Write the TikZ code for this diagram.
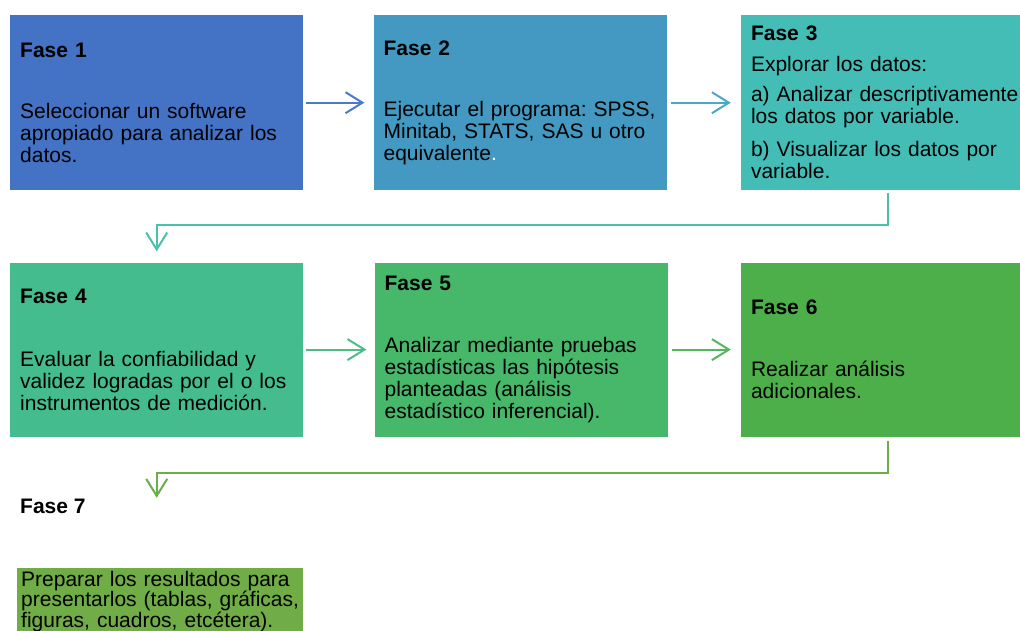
\documentclass[tikz,border=0pt]{standalone}
\usepackage{fontspec}
\setmainfont{Liberation Sans}
\frenchspacing
\usetikzlibrary{positioning,arrows.meta}
\definecolor{faseA}{HTML}{4472C4}
\definecolor{faseB}{HTML}{4399C1}
\definecolor{faseC}{HTML}{45BDB7}
\definecolor{faseD}{HTML}{45BC8E}
\definecolor{faseE}{HTML}{47B76A}
\definecolor{faseF}{HTML}{4DAF4A}
\definecolor{faseG}{HTML}{70AD47}
\definecolor{linkA}{HTML}{4A7BC8}
\definecolor{linkB}{HTML}{4BA8C8}
\definecolor{linkC}{HTML}{4DC0AA}
\definecolor{linkD}{HTML}{4DBC86}
\definecolor{linkE}{HTML}{52B85F}
\definecolor{linkF}{HTML}{6AAD49}
\tikzset{
  faseBox/.style={rectangle, text width=273pt, inner xsep=10pt, inner ysep=0pt, minimum height=175pt, align=left},
  faseTitle/.style={rectangle, inner sep=0pt, font=\fontsize{21}{22}\selectfont\bfseries},
  nextOp/.style={line width=2pt, -{Straight Barb[length=17pt,width=21pt]}},
  jumpOp/.style={line width=2pt, -{Straight Barb[length=17pt,width=21pt]}}
}
\begin{document}
\begin{tikzpicture}[x=1pt, y=-1pt, font=\fontsize{21}{22}\selectfont]
  \useasboundingbox (0,0) rectangle (1020,631);
  \node [faseBox, fill=faseA, anchor=north west] (f1) at (10,15)
    {\textbf{Fase 1}\\[39pt]Seleccionar un software\\apropiado para analizar los\\datos.};
  \node [faseBox, fill=faseB, right=70pt of f1] (f2)
    {\textbf{Fase 2}\\[39pt]\mbox{Ejecutar el programa: SPSS,}\\Minitab, STATS, SAS u otro\\equivalente\textcolor{white}{.}};
  \node [faseBox, fill=faseC, right=74pt of f2] (f3)
    {\textbf{Fase 3}\\[9pt]Explorar los datos:\\[8pt]\mbox{a) Analizar descriptivamente}\\los datos por variable.\\[11pt]b) Visualizar los datos por\\variable.};
  \node [faseBox, fill=faseD, minimum height=174pt, below=72pt of f1] (f4)
    {\textbf{Fase 4}\\[41pt]Evaluar la confiabilidad y\\validez logradas por el o los\\instrumentos de medici\'on.};
  \node [faseBox, fill=faseE, minimum height=174pt, right=71pt of f4] (f5)
    {\textbf{Fase 5}\\[40pt]Analizar mediante pruebas\\estad\'isticas las hip\'otesis\\planteadas (an\'alisis\\estad\'istico inferencial).};
  \node [faseBox, fill=faseF, minimum height=174pt, right=73pt of f5] (f6)
    {\textbf{Fase 6}\\[40pt]Realizar an\'alisis\\adicionales.};
  \node [faseTitle, anchor=base west] (f7title) at (20,513) {Fase 7};
  \node [faseBox, fill=faseG, text width=278pt, inner xsep=4pt, inner ysep=3pt, minimum height=0pt,
         anchor=north west, font=\fontsize{21}{20.5}\selectfont] (f7) at (17,568)
    {Preparar los resultados para\\\mbox{presentarlos (tablas, gr\'aficas,}\\figuras, cuadros, etc\'etera).};
  \coordinate (f7in) at ([yshift=-61pt]f4.south);

  \draw [nextOp, draw=linkA] ([xshift=3pt]f1.east) -- ([xshift=-9pt]f2.west);
  \draw [nextOp, draw=linkB] ([xshift=4pt]f2.east) -- ([xshift=-10pt]f3.west);
  \draw [nextOp, draw=linkD] ([xshift=3pt]f4.east) -- ([xshift=-8pt]f5.west);
  \draw [nextOp, draw=linkE] ([xshift=4pt]f5.east) -- ([xshift=-10pt]f6.west);
  \draw [jumpOp, draw=linkC] ([yshift=-3pt]f3.south) -- ++(0,32) -| ([yshift=11pt]f4.north);
  \draw [jumpOp, draw=linkF] ([yshift=-4pt]f6.south) -- ++(0,32) -| (f7in);
\end{tikzpicture}
\end{document}
